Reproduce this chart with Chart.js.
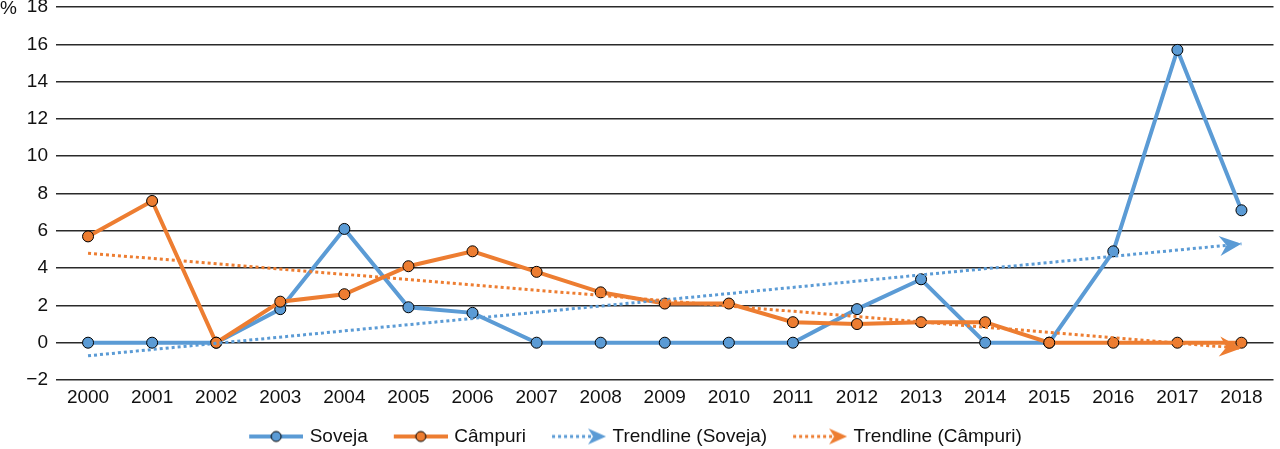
<!DOCTYPE html>
<html>
<head>
<meta charset="utf-8">
<script src="https://cdn.jsdelivr.net/npm/chart.js@4"></script>
<style>
  html, body { margin: 0; padding: 0; background: #fff; }
  #wrap { width: 1280px; height: 449px; }
</style>
</head>
<body>
<div id="wrap"><canvas id="grafico"></canvas></div>
<script>
// --- DATA ---
const years = ['2000', '2001', '2002', '2003', '2004', '2005', '2006', '2007', '2008', '2009',
               '2010', '2011', '2012', '2013', '2014', '2015', '2016', '2017', '2018'];
const soveja = [0, 0, 0, 1.8, 6.1, 1.9, 1.6, 0, 0, 0, 0, 0, 1.8, 3.4, 0, 0, 4.9, 15.7, 7.1];
const campuri = [5.7, 7.6, 0, 2.2, 2.6, 4.1, 4.9, 3.8, 2.7, 2.1, 2.1, 1.1, 1.0, 1.1, 1.1, 0, 0, 0, 0];
// trendline end points (first year, last year)
const trendSoveja = [-0.7, 5.3];
const trendCampuri = [4.8, -0.3];
const yTicks = { min: -2, max: 18, step: 2 };

const BLUE = '#5B9BD5';
const ORANGE = '#ED7D31';
const FONT = "'Liberation Sans', Arial, sans-serif";

// legend icons get a blank left margin so items sit further apart
const ICON_BOX = 77;
const ICON_W = ICON_BOX + 6;

// --- LEGEND ICONS ---
function drawArrow(ctx, tipX, tipY, angle, len, half, notch, color) {
    ctx.save();
    ctx.translate(tipX, tipY);
    ctx.rotate(angle);
    ctx.fillStyle = color;
    ctx.beginPath();
    ctx.moveTo(0, 0);
    ctx.lineTo(-len, -half);
    ctx.lineTo(-len + notch, 0);
    ctx.lineTo(-len, half);
    ctx.closePath();
    ctx.fill();
    ctx.restore();
}

function seriesIcon(color) {
    const c = document.createElement('canvas');
    c.width = ICON_W; c.height = 16;
    const ctx = c.getContext('2d');
    const x0 = ICON_W - 54;
    ctx.strokeStyle = color;
    ctx.lineWidth = 4;
    ctx.beginPath(); ctx.moveTo(x0, 8); ctx.lineTo(ICON_W, 8); ctx.stroke();
    ctx.fillStyle = color;
    ctx.strokeStyle = '#000';
    ctx.lineWidth = 1;
    ctx.beginPath(); ctx.arc(x0 + 27, 8, 5, 0, Math.PI * 2); ctx.fill(); ctx.stroke();
    return c;
}

function trendIcon(color) {
    const c = document.createElement('canvas');
    c.width = ICON_W; c.height = 18;
    const ctx = c.getContext('2d');
    const x0 = ICON_W - 54;
    ctx.strokeStyle = color;
    ctx.lineWidth = 3;
    ctx.setLineDash([3, 3]);
    ctx.beginPath(); ctx.moveTo(x0, 9); ctx.lineTo(x0 + 42, 9); ctx.stroke();
    drawArrow(ctx, ICON_W, 9, 0, 18, 8, 5, color);
    return c;
}

const legendIcons = [seriesIcon(BLUE), seriesIcon(ORANGE), trendIcon(BLUE), trendIcon(ORANGE)];

// --- PLUGINS ---
const trendArrows = {
    id: 'trendArrows',
    afterDatasetsDraw(chart) {
        const ctx = chart.ctx;
        chart.data.datasets.forEach((ds, i) => {
            if (!ds.arrow) return;
            const pts = chart.getDatasetMeta(i).data;
            const a = pts[pts.length - 2], b = pts[pts.length - 1];
            const ang = Math.atan2(b.y - a.y, b.x - a.x);
            drawArrow(ctx, b.x, b.y, ang, 22, 10, 7, ds.borderColor);
        });
    }
};

const percentLabel = {
    id: 'percentLabel',
    afterDraw(chart) {
        const ctx = chart.ctx;
        const y = chart.scales.y.getPixelForValue(yTicks.max);
        ctx.save();
        ctx.font = `19px ${FONT}`;
        ctx.fillStyle = '#111';
        ctx.textAlign = 'left';
        ctx.textBaseline = 'middle';
        ctx.fillText('%', 0, y + 2);
        ctx.restore();
    }
};

// compensate the blank margin of the first legend icon
const legendShift = {
    id: 'legendShift',
    afterLayout(chart) {
        const shift = (ICON_BOX - 48) / 2 + 3;
        chart.legend.left -= shift;
        chart.legend.right -= shift;
    }
};

// --- CHART ---
const ctx = document.getElementById('grafico').getContext('2d');
new Chart(ctx, {
    type: 'line',
    data: {
        labels: years,
        datasets: [
            {
                label: 'Soveja',
                data: soveja,
                borderColor: BLUE,
                backgroundColor: BLUE,
                borderWidth: 4,
                pointRadius: 5.5,
                pointBorderColor: '#000',
                pointBorderWidth: 1,
                pointBackgroundColor: BLUE,
                tension: 0,
                order: 4
            },
            {
                label: 'Câmpuri',
                data: campuri,
                borderColor: ORANGE,
                backgroundColor: ORANGE,
                borderWidth: 4,
                pointRadius: 5.5,
                pointBorderColor: '#000',
                pointBorderWidth: 1,
                pointBackgroundColor: ORANGE,
                tension: 0,
                order: 3
            },
            {
                label: 'Trendline (Soveja)',
                data: [{ x: years[0], y: trendSoveja[0] }, { x: years[years.length - 1], y: trendSoveja[1] }],
                borderColor: BLUE,
                borderWidth: 3,
                borderDash: [3, 3],
                pointRadius: 0,
                arrow: true,
                order: 2
            },
            {
                label: 'Trendline (Câmpuri)',
                data: [{ x: years[0], y: trendCampuri[0] }, { x: years[years.length - 1], y: trendCampuri[1] }],
                borderColor: ORANGE,
                borderWidth: 3,
                borderDash: [3, 3],
                pointRadius: 0,
                arrow: true,
                order: 1
            }
        ]
    },
    options: {
        responsive: true,
        maintainAspectRatio: false,
        animation: false,
        events: [],
        layout: { padding: { top: 7, right: 0, bottom: -7, left: 0 } },
        plugins: {
            tooltip: { enabled: false },
            legend: {
                position: 'bottom',
                labels: {
                    usePointStyle: true,
                    pointStyleWidth: ICON_BOX,
                    padding: 0,
                    color: '#111',
                    font: { family: FONT, size: 19 },
                    generateLabels: (chart) => chart.data.datasets.map((ds, i) => ({
                        text: ds.label,
                        pointStyle: legendIcons[i],
                        fillStyle: ds.borderColor,
                        strokeStyle: 'transparent',
                        lineWidth: 0,
                        hidden: false,
                        datasetIndex: i,
                        fontColor: '#111'
                    }))
                }
            }
        },
        scales: {
            x: {
                offset: true,
                grid: { display: false, drawTicks: false },
                border: { display: false },
                ticks: { color: '#111', padding: 6, font: { family: FONT, size: 19 }, maxRotation: 0 },
                afterFit: (scale) => {
                    scale.height = 47;
                    scale.paddingLeft = 0;
                    scale.paddingRight = 0;
                }
            },
            y: {
                min: yTicks.min,
                max: yTicks.max,
                grid: { color: '#2a2a2a', lineWidth: 1.5, drawTicks: false },
                border: { display: false },
                ticks: {
                    stepSize: yTicks.step,
                    color: '#111',
                    padding: 8,
                    font: { family: FONT, size: 19 },
                    callback: (v) => String(v).replace('-', '\u2212')
                },
                afterFit: (scale) => {
                    scale.width = 56;
                    scale.paddingTop = 0;
                    scale.paddingBottom = 0;
                }
            }
        }
    },
    plugins: [trendArrows, percentLabel, legendShift]
});
</script>
</body>
</html>
